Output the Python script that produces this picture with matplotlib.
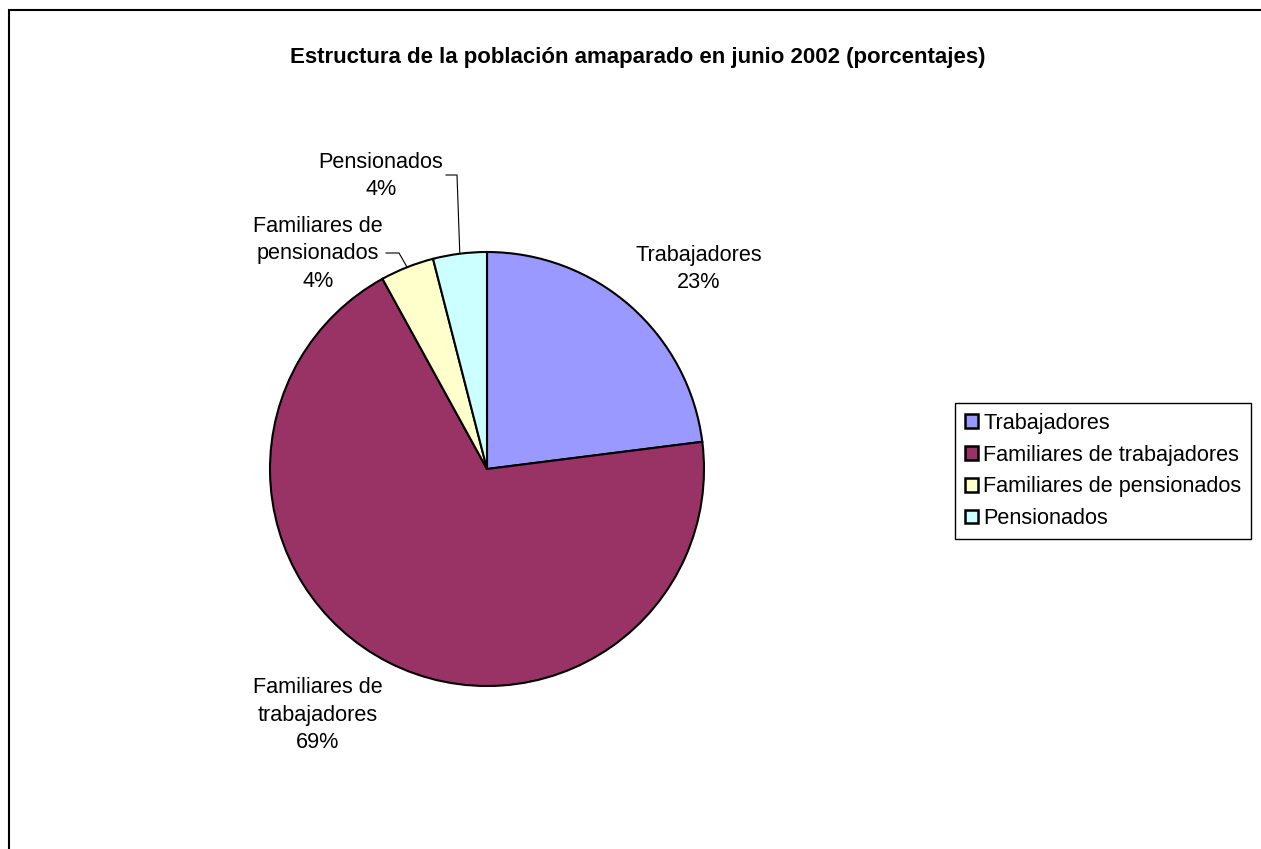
import matplotlib.pyplot as plt
import matplotlib.patches as mpatches
import numpy as np

plt.rcParams['font.family'] = ['Liberation Sans', 'DejaVu Sans']

# data
categorias = ['Trabajadores', 'Familiares de trabajadores',
              'Familiares de pensionados', 'Pensionados']
etiquetas = ['Trabajadores', 'Familiares de\ntrabajadores',
             'Familiares de\npensionados', 'Pensionados']
porcentajes = [23, 69, 4, 4]
colores = ['#9999FF', '#993366', '#FFFFCC', '#CCFFFF']
titulo = 'Estructura de la población amaparado en junio 2002 (porcentajes)'

W, H = 1261, 849
fig = plt.figure(figsize=(W / 100, H / 100), dpi=100)

# pie center / radius in pixels
cx, cy, r = 487, 469, 217
ax = fig.add_axes([(cx - r) / W, (H - cy - r) / H, 2 * r / W, 2 * r / H])
wedges, _ = ax.pie(porcentajes, colors=colores, startangle=90, counterclock=False,
                   radius=1, wedgeprops=dict(edgecolor='black', linewidth=1.5))
ax.set_xlim(-1, 1)
ax.set_ylim(-1, 1)
ax.set_aspect('equal')
ax.axis('off')

def px(x, y):
    return (x - cx) / r, (cy - y) / r

fs = 15.6

# label positions (pixels)
lab_pos = [(699, 269), (318, 715), (318, 254), (381, 176)]
for i, (lx, ly) in enumerate(lab_pos):
    x, y = px(lx, ly)
    ax.text(x, y, '%s\n%d%%' % (etiquetas[i], porcentajes[i]), ha='center', va='center',
            fontsize=fs, linespacing=1.38, clip_on=False)

# leader lines for small slices
for i, (p1, p2) in [(2, ((386, 253), (399, 253))), (3, ((446, 175), (457, 175)))]:
    w = wedges[i]
    mid = np.deg2rad((w.theta1 + w.theta2) / 2)
    a, b = px(*p1)
    c, d = px(*p2)
    ax.plot([a, c, np.cos(mid)], [b, d, np.sin(mid)], color='black', lw=0.8, clip_on=False)

fig.text(638 / W, 1 - 57 / H, titulo, ha='center', va='center',
         fontsize=16, fontweight='bold')

handles = [mpatches.Patch(facecolor=colores[i], edgecolor='black', linewidth=1.8)
           for i in range(len(categorias))]
leg = fig.legend(handles, categorias, loc='upper left',
                 bbox_to_anchor=(955 / W, 1 - 403 / H), fontsize=fs,
                 frameon=True, fancybox=False, edgecolor='black', framealpha=1,
                 handlelength=0.6, handleheight=0.6, handletextpad=0.25,
                 labelspacing=0.5, borderpad=0.45, borderaxespad=0)
leg.get_frame().set_linewidth(1.0)

# outer chart frame
fig.patches.append(mpatches.Rectangle((9 / W, -0.1), 1.2, 1.1 - 10 / H, transform=fig.transFigure,
                                      fill=False, edgecolor='black', linewidth=1.5))

fig.savefig('out.png', dpi=100)
